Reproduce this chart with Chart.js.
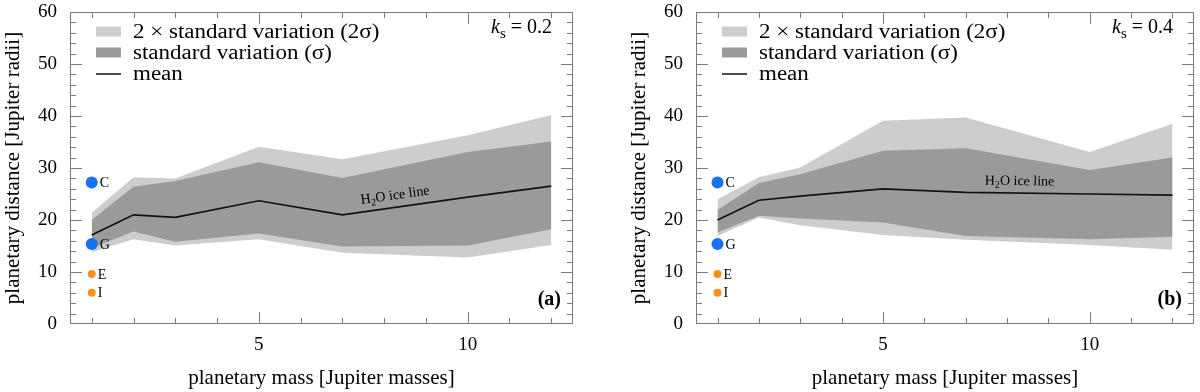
<!DOCTYPE html>
<html>
<head>
<meta charset="utf-8">
<script src="https://cdn.jsdelivr.net/npm/chart.js@4.4.1/dist/chart.umd.min.js"></script>
<style>
  html, body { margin:0; padding:0; background:#fff; }
  #wrap { display:flex; width:1200px; height:392px; }
  canvas { display:block; }
</style>
</head>
<body>
<div id="wrap">
  <canvas id="panel-a" width="600" height="392"></canvas>
  <canvas id="panel-b" width="600" height="392"></canvas>
</div>
<script>
/* ---- data (planetary distance in Jupiter radii) ---- */
const masses = [1, 2, 3, 5, 7, 10, 12];

/* (a) k_s = 0.2 */
const aLightTop = [21.4, 28.2, 28.0, 34.1, 31.7, 36.3, 40.2];
const aDarkTop  = [20.0, 26.4, 27.5, 31.1, 28.1, 33.1, 35.1];
const aMean     = [17.1, 21.0, 20.5, 23.7, 21.0, 24.4, 26.5];
const aDarkBot  = [14.6, 17.8, 15.8, 17.4, 14.9, 15.1, 18.2];
const aLightBot = [13.8, 16.3, 15.1, 16.3, 13.7, 12.8, 15.2];

/* (b) k_s = 0.4 */
const bLightTop = [24.0, 28.2, 30.1, 39.1, 39.7, 33.1, 38.5];
const bDarkTop  = [21.9, 27.1, 28.8, 33.3, 33.8, 29.6, 32.0];
const bMean     = [20.0, 23.8, 24.6, 26.0, 25.3, 25.0, 24.8];
const bDarkBot  = [17.6, 20.8, 20.3, 19.5, 16.9, 16.3, 16.8];
const bLightBot = [16.9, 20.5, 19.0, 17.1, 16.2, 15.2, 14.3];

/* galilean moons, plotted at 1 Jupiter mass */
const moonNames = ['C', 'G', 'E', 'I'];
const moonMass  = [1, 1, 1, 1];
const moonDist  = [27.2, 15.4, 9.6, 6.0];

const xTickLabels = [5, 10];
const yTickLabels = [0, 10, 20, 30, 40, 50, 60];
const legendLabels = ['2 × standard variation (2σ)', 'standard variation (σ)', 'mean'];

/* ---- styles ---- */
const FONT = 'Liberation Serif';
const LIGHT = '#cdcdcd', DARK = '#9a9a9a', FRAME = '#7a7a7a';
const BLUE = '#1572f0', ORANGE = '#f5901e';
const moonRadius = [6, 6, 4, 4];
const moonColor = [BLUE, BLUE, ORANGE, ORANGE];
const ICE_AT = 8.3;   /* masse où l'on pose le texte "H2O ice line" */

Chart.defaults.font.family = FONT;
Chart.defaults.color = '#000';

const pts = arr => masses.map((m, i) => ({ x: m, y: arr[i] }));

/* frame, inward ticks, legend, labels */
const decor = {
  id: 'decor',
  afterDraw(chart, args, o){
    const ctx = chart.ctx, a = chart.chartArea;
    const xs = chart.scales.x, ys = chart.scales.y;
    ctx.save();

    /* ticks (pointing inward, mirrored) */
    ctx.strokeStyle = FRAME; ctx.lineWidth = 1;
    ctx.beginPath();
    for(let v = 1; v <= 12; v++){
      const px = Math.round(xs.getPixelForValue(v)) + .5, l = v % 5 === 0 ? 12 : 6;
      ctx.moveTo(px, a.bottom); ctx.lineTo(px, a.bottom - l);
      ctx.moveTo(px, a.top); ctx.lineTo(px, a.top + l);
    }
    for(let v = 2; v < 60; v += 2){
      const py = Math.round(ys.getPixelForValue(v)) + .5, l = v % 10 === 0 ? 12 : 6;
      ctx.moveTo(a.left, py); ctx.lineTo(a.left + l, py);
      ctx.moveTo(a.right, py); ctx.lineTo(a.right - l, py);
    }
    ctx.stroke();
    ctx.strokeRect(Math.round(a.left) + .5, Math.round(a.top) + .5, Math.round(a.right - a.left) - 1, Math.round(a.bottom - a.top) - 1);

    /* legend (texte un peu étiré en largeur, comme l'original) */
    const lx = a.left + 26, ly = a.top;
    ctx.fillStyle = LIGHT; ctx.fillRect(lx, ly + 14.5, 25, 10);
    ctx.fillStyle = DARK;  ctx.fillRect(lx, ly + 35.5, 25, 10);
    ctx.strokeStyle = '#222'; ctx.lineWidth = 1.6;
    ctx.beginPath(); ctx.moveTo(lx, ly + 62); ctx.lineTo(lx + 25, ly + 62); ctx.stroke();
    ctx.fillStyle = '#000'; ctx.font = `20px ${FONT}`; ctx.textBaseline = 'alphabetic'; ctx.textAlign = 'left';
    legendLabels.forEach((t, i) => {
      ctx.save(); ctx.translate(lx + 37, ly + 26 + i * 20.8); ctx.scale(1.15, 1);
      ctx.fillText(t, 0, 0); ctx.restore();
    });

    /* k_s = ... */
    const ks = [[`italic 20px ${FONT}`, 'k', 0], [`15px ${FONT}`, 's', 5], [`20px ${FONT}`, ' = ' + o.ks, 0]];
    let w = 0;
    ks.forEach(([f, t]) => { ctx.font = f; w += ctx.measureText(t).width; });
    let kx = a.right - 21 - w;
    ks.forEach(([f, t, dy]) => { ctx.font = f; ctx.fillText(t, kx, a.top + 21 + dy); kx += ctx.measureText(t).width; });

    /* (a) / (b) */
    ctx.font = `bold 20px ${FONT}`; ctx.textAlign = 'right';
    ctx.fillText(o.tag, a.right - 12, a.bottom - 19);

    /* moon names */
    const meta = chart.getDatasetMeta(0);
    ctx.font = `14px ${FONT}`; ctx.textAlign = 'left'; ctx.textBaseline = 'middle';
    meta.data.forEach((p, i) => ctx.fillText(moonNames[i], p.x + moonRadius[i] + 2, p.y + 1));

    /* "H2O ice line" le long de la courbe moyenne */
    const mean = chart.data.datasets[1].data;
    const k = masses.findIndex(m => m > ICE_AT) - 1;
    const x0 = xs.getPixelForValue(mean[k].x), y0 = ys.getPixelForValue(mean[k].y);
    const x1 = xs.getPixelForValue(mean[k + 1].x), y1 = ys.getPixelForValue(mean[k + 1].y);
    const t = (xs.getPixelForValue(ICE_AT) - x0) / (x1 - x0);
    ctx.translate(x0 + t * (x1 - x0), y0 + t * (y1 - y0));
    ctx.rotate(Math.atan2(y1 - y0, x1 - x0));
    const parts = [[`14px ${FONT}`, 'H', 0], [`10px ${FONT}`, '2', 3], [`14px ${FONT}`, 'O ice line', 0]];
    let tw = 0;
    parts.forEach(([f, s]) => { ctx.font = f; tw += ctx.measureText(s).width; });
    let tx = -tw / 2;
    ctx.textBaseline = 'alphabetic';
    parts.forEach(([f, s, dy]) => { ctx.font = f; ctx.fillText(s, tx, -8 + dy); tx += ctx.measureText(s).width; });

    ctx.restore();
  }
};

function panel(id, lightTop, darkTop, mean, darkBot, lightBot, ks, tag, padLeft, padRight){
  return new Chart(document.getElementById(id), {
    type: 'line',
    data: { datasets: [
      { data: moonDist.map((v, i) => ({ x: moonMass[i], y: v })), showLine: false,
        pointRadius: moonRadius, pointBackgroundColor: moonColor, pointBorderWidth: 0 },
      { data: pts(mean), borderColor: '#111', borderWidth: 1.7, pointRadius: 0, fill: false },
      { data: pts(darkTop), borderWidth: 0, pointRadius: 0, fill: '+1', backgroundColor: DARK },
      { data: pts(darkBot), borderWidth: 0, pointRadius: 0, fill: false },
      { data: pts(lightTop), borderWidth: 0, pointRadius: 0, fill: '+1', backgroundColor: LIGHT },
      { data: pts(lightBot), borderWidth: 0, pointRadius: 0, fill: false },
    ] },
    options: {
      responsive: false, animation: false, events: [],
      layout: { padding: { left: padLeft, right: padRight, top: 12, bottom: 0 } },
      plugins: { legend: { display: false }, tooltip: { enabled: false }, decor: { ks, tag } },
      scales: {
        x: {
          type: 'linear', min: 0.48, max: 12.52,
          grid: { display: false, drawTicks: false, tickLength: 0 }, border: { display: false },
          afterBuildTicks: s => { s.ticks = xTickLabels.map(v => ({ value: v })); },
          ticks: { font: { size: 19 }, padding: 10, maxRotation: 0 },
          title: { display: true, text: 'planetary mass [Jupiter masses]', font: { size: 21 }, padding: { top: 0, bottom: 1 } },
          afterFit: s => { s.height = 68; s.paddingLeft = 0; s.paddingRight = 0; }
        },
        y: {
          min: 0, max: 60,
          grid: { display: false, drawTicks: false, tickLength: 0 }, border: { display: false },
          afterBuildTicks: s => { s.ticks = yTickLabels.map(v => ({ value: v })); },
          ticks: { font: { size: 19 }, padding: 13 },
          title: { display: true, text: 'planetary distance [Jupiter radii]', font: { size: 21 }, padding: { top: 1, bottom: 0 } },
          afterFit: s => { s.width = 70; s.paddingTop = 0; s.paddingBottom = 0; }
        }
      }
    },
    plugins: [decor]
  });
}

panel('panel-a', aLightTop, aDarkTop, aMean, aDarkBot, aLightBot, '0.2', '(a)', 0, 27);
panel('panel-b', bLightTop, bDarkTop, bMean, bDarkBot, bLightBot, '0.4', '(b)', 26, 2);
</script>
</body>
</html>
